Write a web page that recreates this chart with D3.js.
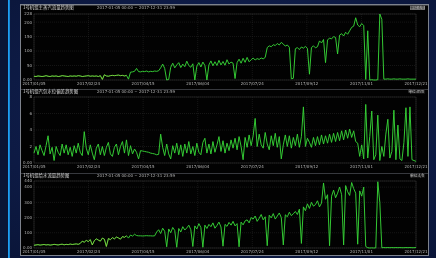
<!DOCTYPE html>
<html>
<head>
<meta charset="utf-8">
<script src="https://cdn.jsdelivr.net/npm/d3@7"></script>
<style>
html, body { margin: 0; padding: 0; background: #0c1a44; overflow: hidden; }
svg { display: block; filter: blur(0.35px); }
</style>
</head>
<body>
<svg id="fig" width="436" height="258"></svg>
<script>
'use strict';

// x tick labels (shared by the three panels)
const date_labels = ['2017/01/05', '2017/02/24', '2017/04/15', '2017/06/04',
    '2017/07/24', '2017/09/12', '2017/11/01', '2017/12/21'];

// panel titles
const titles = ['1号机组主蒸汽流量趋势图', '1号机组汽包水位偏差趋势图', '1号机组给水流量趋势图'];
const time_range = '2017-01-05 00:00 ~ 2017-12-31 23:59';
const units = ['单位:t/h', '单位:mm', '单位:t/h'];

// y axis ticks
const ticks_p1 = [0, 50, 100, 150, 200, 228];
const ticks_p2 = [0, 2, 4, 6, 8];
const ticks_p3 = [0, 100, 200, 300, 400, 440];

// series values, one sample per step
const vals_p1 = [
    13,12,14,13,12,13,15,13,12,14, 13,14,12,13,15,14,13,12,14,13,
    14,13,15,14,12,13,14,15,13,14, 13,14,12,15,2,18,14,13,15,16,
    15,16,17,15,16,14,16,3,27,28, 30,40,29,28,30,29,31,28,30,29,
    31,30,32,42,55,40,0,2,44,58, 42,52,60,43,55,46,65,50,44,56,
    0,48,60,45,62,50,0,52,66,49, 63,50,68,52,64,51,70,55,62,58,
    5,60,72,58,75,61,78,63,70,76, 69,74,71,76,73,78,112,118,115,122,
    119,126,121,130,124,117,121,113,4,6, 108,112,105,114,110,116,109,20,112,118,
    111,115,135,128,140,60,138,145,142,150, 147,90,155,160,152,165,158,170,182,186,
    215,190,184,195,188,2,170,0,1,0, 0,1,228,210,3,3,4,3,3,4,
    3,3,4,3,3,3,4,3,3,3,3
];
const vals_p2 = [
    1.2,2.0,1.0,2.2,1.5,0.9,2.1,3.3,1.1,1.9, 0.3,2.0,1.3,0.9,2.3,1.2,2.2,1.0,1.9,0.8,
    2.1,1.2,2.4,1.3,0.9,3.8,1.8,1.0,2.2,1.2, 0.4,1.8,2.3,1.0,2.0,0.9,1.9,2.5,1.1,0.8,
    1.9,2.3,1.0,2.0,2.6,1.2,2.8,0.9,2.1,1.1, 1.7,1.3,0.5,1.5,1.45,1.4,1.35,1.3,1.2,1.15,
    1.1,1.0,1.05,3.5,1.9,0.9,2.3,1.1,0.5,2.1, 1.2,2.4,1.0,2.2,0.8,2.3,1.2,2.6,1.1,2.0,
    0.9,2.4,1.3,1.0,2.5,3.0,1.2,2.3,1.1,2.6, 1.3,2.2,3.2,1.4,2.7,1.2,2.4,1.5,2.8,1.8,
    3.0,1.6,3.2,2.0,0.4,3.1,1.9,3.4,2.1,3.3, 5.4,2.0,3.5,2.2,1.8,3.7,2.3,1.6,3.3,2.1,
    3.6,1.9,3.2,0.5,2.2,3.4,2.0,3.3,1.8,3.1, 2.1,3.5,1.9,3.2,6.8,2.0,3.0,2.5,1.9,3.1,
    2.1,3.2,2.2,3.4,2.3,3.3,2.4,3.5,2.5,3.6, 2.6,3.7,2.7,3.9,2.8,4.0,3.0,4.1,3.1,3.9,
    2.6,2.4,0.8,2.2,0.5,7.1,0.6,3.2,6.3,0.4, 1.0,5.8,0.3,2.0,0.8,3.5,5.3,0.6,1.4,6.4,
    0.4,4.6,0.5,0.3,2.5,6.7,0.8,6.8,0.4,0.3,0.2
];
const vals_p3 = [
    18,20,22,19,21,23,20,22,19,21, 24,22,20,23,25,21,24,22,26,23,
    25,27,24,30,45,38,50,42,55,20, 48,60,52,45,65,58,10,62,55,68,
    60,72,66,58,75,70,80,65,85,78, 90,82,80,80,79,80,81,80,80,79,
    80,105,120,95,130,110,8,125,100,135, 115,5,128,105,140,118,132,150,120,10,
    145,125,160,135,5,150,128,155,140,165, 130,148,170,138,12,155,142,168,150,175,
    145,160,8,170,152,178,185,165,200,190, 210,175,195,220,185,205,15,215,198,226,
    190,210,230,200,20,218,205,235,212,225, 240,220,255,30,270,245,290,260,300,275,
    285,310,270,295,427,320,350,15,340,380, 330,360,400,350,20,410,370,345,430,390,
    360,25,375,340,400,10,2,0,1,0, 1,435,300,2,3,2,3,2,3,2,
    3,2,3,2,2,3,2,3,2,2,3
];

const fig = {
    svg: null,
    width: 436,
    height: 258,
    x_left: 34,
    x_right: 416,
    color_line: '#36d236',
    color_early: '#b9d84a',
    color_text: '#b4b4b4',
    color_grid: '#2b2b2b',
    font_size: 4.4,

    panels: [
        { top: 5,   y0: 14,  y1: 80,  data: vals_p1, max: 228, ticks: ticks_p1 },
        { top: 89,  y0: 97,  y1: 163, data: vals_p2, max: 8,   ticks: ticks_p2 },
        { top: 173, y0: 181, y1: 248, data: vals_p3, max: 440, ticks: ticks_p3 }
    ],

    init: function() {
        this.svg = d3.select('#fig');
        this._draw_back();
        for (let k = 0; k < this.panels.length; k++) {
            this._draw_panel(k);
        }
    },

    _draw_back: function() {
        var defs = this.svg.append('defs');
        var grad = defs.append('radialGradient')
            .attr('id', 'bg')
            .attr('cx', '50%').attr('cy', '45%').attr('r', '75%');
        grad.append('stop').attr('offset', '0%').attr('stop-color', '#13245a');
        grad.append('stop').attr('offset', '100%').attr('stop-color', '#0a1538');
        this.svg.append('rect')
            .attr('width', this.width).attr('height', this.height)
            .attr('fill', 'url(#bg)');
        // left accent strip
        this.svg.append('rect')
            .attr('x', 0).attr('y', 0).attr('width', 8).attr('height', this.height)
            .attr('fill', '#0a1536');
        this.svg.append('rect')
            .attr('x', 8).attr('y', 0).attr('width', 1.8).attr('height', this.height)
            .attr('fill', '#1d9ef3');
        // black canvas of the three charts
        this.svg.append('rect')
            .attr('x', 20.5).attr('y', 4.5).attr('width', 408).attr('height', 251)
            .attr('fill', '#020202')
            .attr('stroke', '#7d828c')
            .attr('stroke-width', 1);
    },

    _draw_panel: function(k) {
        var p = this.panels[k];
        var g = this.svg.append('g').attr('class', 'panel');
        var n = p.data.length;

        var x = d3.scaleLinear().domain([0, n - 1]).range([this.x_left, this.x_right]);
        var y = d3.scaleLinear().domain([0, p.max]).range([p.y1, p.y0]);

        // title row
        g.append('line')
            .attr('x1', 21).attr('x2', 428)
            .attr('y1', p.top + 0.5).attr('y2', p.top + 0.5)
            .attr('stroke', '#5c6068').attr('stroke-width', 0.6);
        g.append('text')
            .attr('x', 23).attr('y', p.top + 4.3)
            .attr('font-size', this.font_size)
            .attr('font-family', 'Noto Sans CJK SC')
            .attr('fill', '#d8d8d8')
            .text(titles[k]);
        g.append('text')
            .attr('x', 97).attr('y', p.top + 4.3)
            .attr('font-size', this.font_size - 0.4)
            .attr('font-family', 'DejaVu Sans')
            .attr('fill', this.color_text)
            .text(time_range);
        g.append('rect')
            .attr('x', 410).attr('y', p.top + 0.8).attr('width', 15).attr('height', 4)
            .attr('fill', k == 0 ? '#8c8c8c' : '#1a1a1a');
        g.append('text')
            .attr('x', 424).attr('y', p.top + 4.2)
            .attr('font-size', this.font_size - 0.6)
            .attr('font-family', 'Noto Sans CJK SC')
            .attr('text-anchor', 'end')
            .attr('fill', k == 0 ? '#222' : '#c8c8c8')
            .text(units[k]);

        // grid
        var tick_idx = date_labels.map(function(d, i) { return i * (n - 1) / (date_labels.length - 1); });
        g.selectAll('line.vgrid')
            .data(tick_idx)
            .enter()
            .append('line')
            .attr('x1', function(d) { return x(d); })
            .attr('x2', function(d) { return x(d); })
            .attr('y1', p.y0).attr('y2', p.y1)
            .attr('stroke', this.color_grid)
            .attr('stroke-width', 0.5)
            .attr('stroke-dasharray', '1,1');
        g.selectAll('line.hgrid')
            .data(p.ticks)
            .enter()
            .append('line')
            .attr('x1', this.x_left).attr('x2', this.x_right)
            .attr('y1', function(d) { return y(d); })
            .attr('y2', function(d) { return y(d); })
            .attr('stroke', this.color_grid)
            .attr('stroke-width', 0.5)
            .attr('stroke-dasharray', '1,1');

        // plot frame
        g.append('rect')
            .attr('x', this.x_left).attr('y', p.y0)
            .attr('width', this.x_right - this.x_left).attr('height', p.y1 - p.y0)
            .attr('fill', 'none')
            .attr('stroke', '#3a3a3a')
            .attr('stroke-width', 0.5);

        // y labels
        g.selectAll('text.ylab')
            .data(p.ticks)
            .enter()
            .append('text')
            .attr('x', this.x_left - 2)
            .attr('y', function(d) { return y(d) + 1.4; })
            .attr('font-size', this.font_size - 0.4)
            .attr('font-family', 'DejaVu Sans')
            .attr('text-anchor', 'end')
            .attr('fill', this.color_text)
            .text(function(d) { return d == 0 ? '0.00' : d; });

        // x labels
        g.selectAll('text.xlab')
            .data(tick_idx)
            .enter()
            .append('text')
            .attr('x', function(d) { return x(d); })
            .attr('y', p.y1 + 5)
            .attr('font-size', this.font_size - 0.4)
            .attr('font-family', 'DejaVu Sans')
            .attr('text-anchor', 'middle')
            .attr('fill', this.color_text)
            .text(function(d, i) { return date_labels[i]; });

        // the series
        var line = d3.line()
            .x(function(d, i) { return x(i); })
            .y(function(d) { return y(d); });
        g.append('path')
            .datum(p.data)
            .attr('d', line)
            .attr('fill', 'none')
            .attr('stroke', this.color_line)
            .attr('stroke-width', 0.95)
            .attr('stroke-linejoin', 'round');
        // early part drawn yellowish
        var line_early = d3.line()
            .defined(function(d, i) { return i <= 46; })
            .x(function(d, i) { return x(i); })
            .y(function(d) { return y(d); });
        if (k != 1) {
            g.append('path')
                .datum(p.data)
                .attr('d', line_early)
                .attr('fill', 'none')
                .attr('stroke', this.color_early)
                .attr('stroke-width', 0.6)
                .attr('opacity', 0.8);
        }
    }
};

fig.init();
</script>
</body>
</html>
